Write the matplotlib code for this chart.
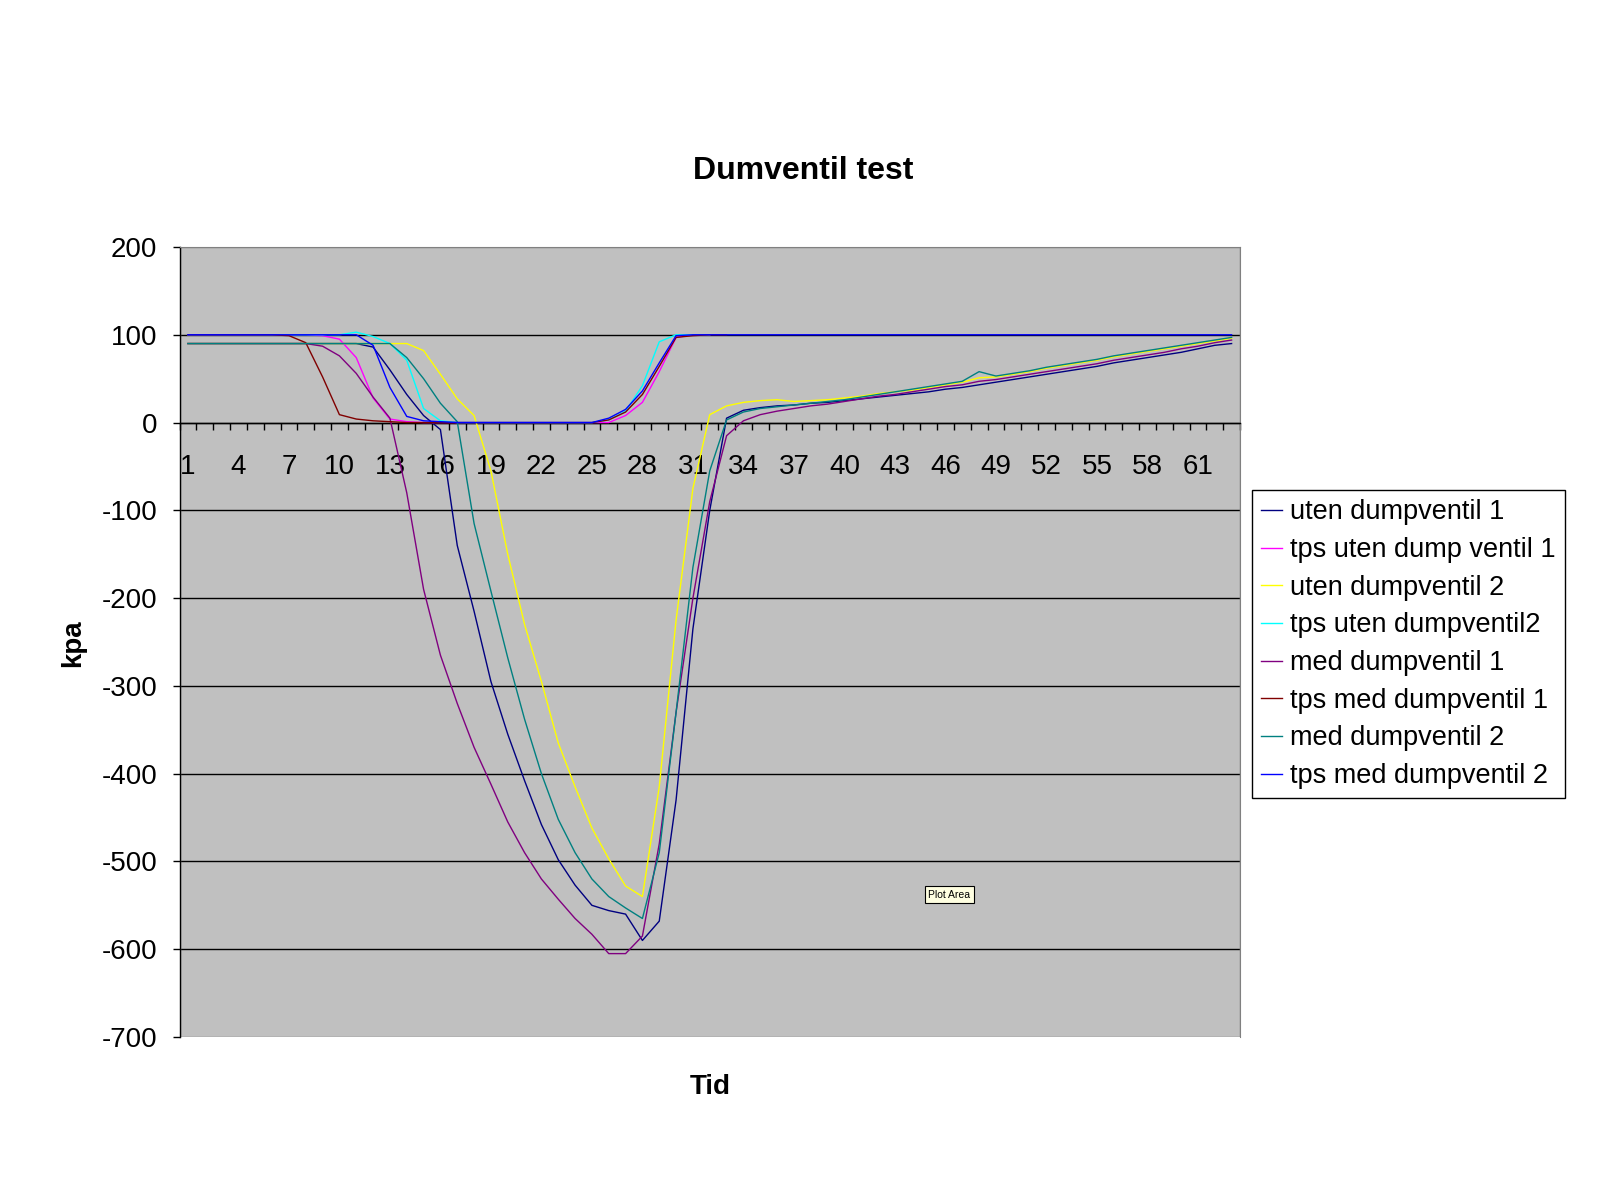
import matplotlib
matplotlib.use("Agg")
import matplotlib.pyplot as plt
import numpy as np
from matplotlib.patches import Rectangle

plt.rcParams['font.family'] = ['Liberation Sans', 'DejaVu Sans']

# tid (kategori 1..63)
tid = np.arange(1, 64)
nan = np.nan

uten_dump_1 = [90]*11 + [86, 60, 32, 8, -8, -140, -215, -295, -355, -408, -458, -498, -527, -550,
               -556, -560, -590, -568, -430, -235, -100, 5, 14, 17, 19, 20, 22, 23, 25, 27, 29,
               31, 33, 35, 38, 40, 43, 46, 49, 52, 55, 58, 61, 64, 68, 71, 74, 77, 80, 84, 88, 90]
tps_uten_dump_1 = [100]*8 + [99, 95, 74, 28, 4, 1] + [0]*12 + [8, 23, 58, 97, 100, 100] + [nan]*31
uten_dump_2 = [90]*14 + [82, 55, 27, 8, -55, -150, -230, -295, -365, -415, -462, -497, -528, -540,
               -415, -225, -75, 9, 19, 23, 25, 26, 24, 25, 26, 28, 30, 33, 35, 37, 40, 43, 46, 51,
               52, 55, 58, 62, 65, 68, 71, 75, 78, 81, 84, 87, 90, 93, 96]
tps_uten_dump_2 = [100]*10 + [103, 98, 90, 71, 16, 2] + [0]*9 + [3, 13, 42, 92, 100, 100, 100] + [nan]*31
med_dump_1 = [90]*8 + [87, 76, 56, 29, 5, -80, -190, -265, -320, -370, -412, -455, -490, -520,
              -543, -565, -583, -605, -605, -585, -480, -330, -200, -90, -15, 2, 9, 13, 16, 19, 21,
              24, 27, 30, 32, 35, 38, 41, 43, 47, 49, 52, 55, 58, 61, 64, 67, 71, 74, 77, 80, 84,
              87, 91, 94]
tps_med_dump_1 = [100]*6 + [99, 91, 52, 9, 4, 2, 1] + [0]*12 + [3, 12, 32, 64, 97, 99, 100, 100] + [nan]*30
med_dump_2 = [90]*13 + [74, 50, 22, 1, -115, -192, -268, -338, -400, -452, -490, -520, -540, -553,
              -565, -490, -330, -165, -55, 3, 12, 16, 18, 20, 22, 24, 26, 29, 32, 35, 38, 41, 44,
              47, 58, 53, 56, 59, 63, 66, 69, 72, 76, 79, 82, 85, 88, 91, 94, 97]
tps_med_dump_2 = [100]*11 + [88, 40, 7, 2, 1] + [0]*9 + [5, 15, 36, 68, 99] + [100]*33

serier = [
    ("uten dumpventil 1", uten_dump_1, "#000080"),
    ("tps uten dump ventil 1", tps_uten_dump_1, "#FF00FF"),
    ("uten dumpventil 2", uten_dump_2, "#FFFF00"),
    ("tps uten dumpventil2", tps_uten_dump_2, "#00FFFF"),
    ("med dumpventil 1", med_dump_1, "#800080"),
    ("tps med dumpventil 1", tps_med_dump_1, "#800000"),
    ("med dumpventil 2", med_dump_2, "#008080"),
    ("tps med dumpventil 2", tps_med_dump_2, "#0000FF"),
]

y_ticks = np.arange(-700, 201, 100)
x_labels = np.arange(1, 64, 3)

W, H = 1600, 1200
fig = plt.figure(figsize=(16, 12), dpi=100)
ax = fig.add_axes([179.5/W, 1-1037/H, (1240-179.5)/W, (1037-247)/H])
ax.set_facecolor("#C0C0C0")

for navn, verdier, farge in serier:
    ax.plot(tid, verdier, color=farge, lw=1.0, label=navn, zorder=3)

ax.set_xlim(0.5, 63.5)
ax.set_ylim(-700, 200)

# gitter
ax.set_yticks(y_ticks)
ax.set_yticklabels([str(v) for v in y_ticks], fontsize=20)
ax.yaxis.grid(True, color="black", lw=1.0)
ax.set_axisbelow(True)
for gl, v in zip(ax.get_ygridlines(), y_ticks):
    if v in (200, -700):
        gl.set_visible(False)
ax.tick_params(axis="y", direction="out", length=5, width=1, pad=11)

# x-akse ved 0, streker mellom kategoriene
ax.spines["bottom"].set_position(("data", 0))
ax.spines["bottom"].set_linewidth(1.0)
ax.spines["left"].set_linewidth(1.0)
for s in ("top", "right"):
    ax.spines[s].set_color("#808080")
ax.add_patch(Rectangle((0, 0), 1, 1, transform=ax.transAxes, fill=False,
                       edgecolor="#808080", lw=1.0, zorder=1))
ax.set_xticks(np.arange(0.5, 64, 1))
ax.set_xticklabels([])
ax.tick_params(axis="x", which="major", direction="out", length=5, width=1)
ax.set_xticks(x_labels, minor=True)
ax.set_xticklabels([str(v) for v in x_labels], minor=True, fontsize=20)
ax.tick_params(axis="x", which="minor", length=0, pad=22.5)

fig.text(803/W, 1-171/H, "Dumventil test", fontsize=23, fontweight="bold",
         ha="center", va="center")
fig.text(710/W, 1-1087/H, "Tid", fontsize=20, fontweight="bold", ha="center", va="center")
fig.text(73/W, 1-643/H, "kpa", fontsize=20, fontweight="bold", ha="center", va="center",
         rotation=90)

leg = ax.legend(loc="upper left", bbox_to_anchor=(1252/W, 1-490/H), bbox_transform=fig.transFigure,
                borderaxespad=0, fontsize=19.5, handlelength=0.75, handletextpad=0.3,
                labelspacing=0.43, borderpad=0.35, fancybox=False, framealpha=1,
                edgecolor="black")
leg.get_frame().set_linewidth(1.0)

fig.text(949.5/W, 1-894.5/H, "Plot Area", fontsize=7.5, ha="center", va="center",
         bbox=dict(boxstyle="square,pad=0.3", facecolor="#FFFFE1", edgecolor="black", lw=0.8))

fig.savefig("out.png", dpi=100, facecolor="white")
